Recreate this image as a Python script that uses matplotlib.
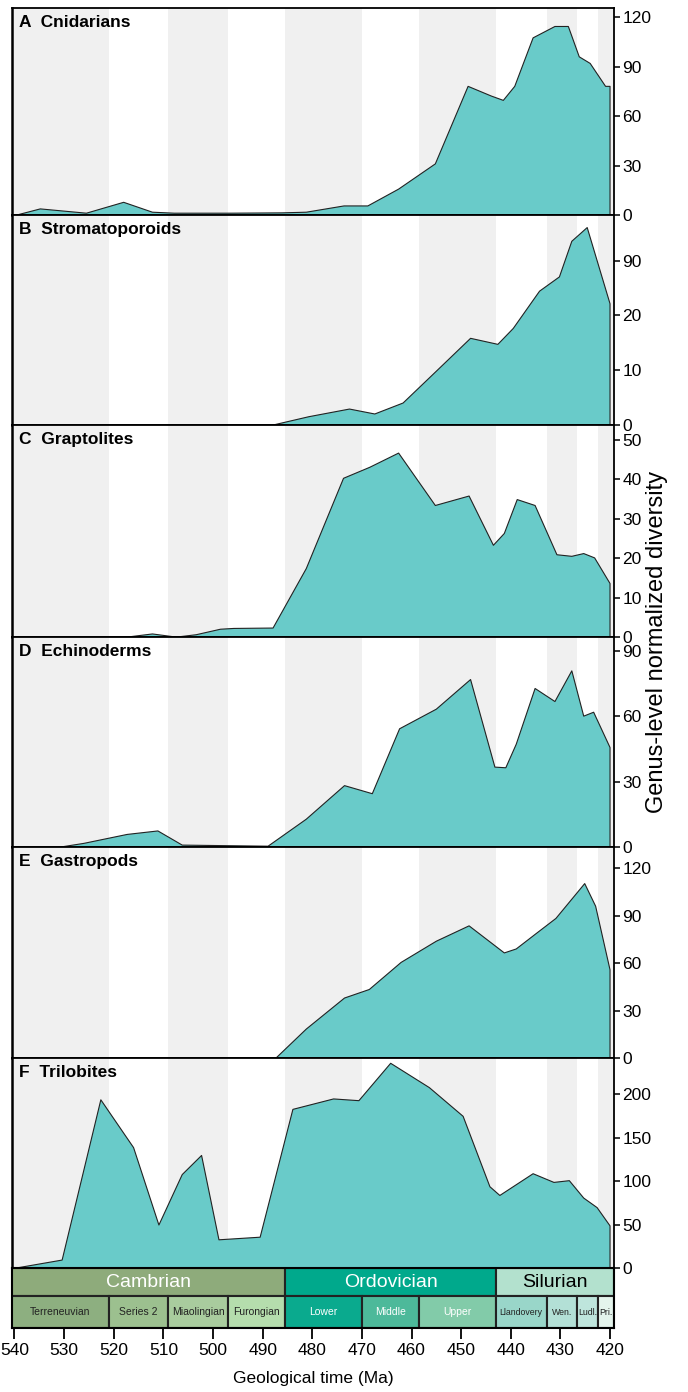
import matplotlib.pyplot as plt
from matplotlib.patches import Rectangle

plt.rcParams['font.family'] = ['Liberation Sans', 'DejaVu Sans']

# ---- data (age in Ma, genus-level normalized diversity) ----
cnid_age = [540, 534.9, 525.6, 518.1, 512.3, 507.9, 496.8, 486.2, 481.3, 473.7, 468.9, 462.7,
            455.3, 448.7, 444.0, 441.6, 439.3, 435.6, 431.2, 428.5, 426.3, 424.1, 421.0, 420.1]
cnid_div = [0, 4, 1.4, 8, 2, 1.4, 1.4, 1.6, 2, 5.8, 5.8, 16,
            31.3, 78.3, 72.4, 69.8, 78.3, 107.7, 114.6, 114.6, 96.2, 92.2, 78.3, 78.3]

strom_age = [488.4, 480.8, 472.6, 467.5, 461.8, 455.1, 448.2, 442.7, 439.6, 434.3, 430.3, 427.8, 424.7, 420.1]
strom_div = [0, 1.6, 3.0, 2.1, 4.1, 9.9, 15.9, 14.8, 17.7, 24.5, 27.1, 33.6, 36.1, 22.2]

grap_age = [518.1, 512.3, 507.5, 503.5, 498.6, 495.9, 488.0, 481.3, 473.8, 468.5, 462.7, 455.3,
            448.5, 443.6, 441.4, 438.8, 435.2, 430.8, 427.8, 425.4, 423.2, 420.1]
grap_div = [0, 0.9, 0.1, 0.7, 2.1, 2.3, 2.4, 17.5, 40.4, 43.2, 46.8, 33.5,
            35.9, 23.4, 26.4, 35.0, 33.5, 21.0, 20.6, 21.3, 20.2, 13.7]

echi_age = [531.4, 526.1, 517.4, 511.2, 506.3, 489.0, 481.3, 473.6, 468.0, 462.5, 455.1, 448.2,
            443.3, 441.1, 439.0, 435.2, 431.2, 427.8, 425.4, 423.4, 420.1]
echi_div = [0, 1.9, 6.0, 7.6, 1.1, 0.6, 13, 28.4, 24.7, 54.5, 63.5, 77.1,
            36.9, 36.6, 47.4, 73, 67, 81.1, 60.3, 62.1, 45.9]

gast_age = [487.5, 481.3, 473.6, 468.6, 462.2, 455.1, 448.5, 441.4, 439.0, 435.2, 431.0, 425.2, 423.0, 420.1]
gast_div = [0, 18.6, 38.2, 43.6, 60.7, 74.1, 83.8, 66.7, 69.2, 78.4, 88.5, 110.5, 96.2, 56.0]

tril_age = [540.3, 530.5, 522.7, 516.1, 511.0, 506.3, 502.4, 498.9, 490.6, 484.0, 475.8, 470.7,
            464.3, 456.5, 449.7, 444.3, 442.3, 435.6, 431.4, 428.3, 425.4, 422.7, 420.1]
tril_div = [0, 9.7, 194, 139, 50, 108, 130, 33, 36, 183, 195, 193,
            236, 208, 175, 94, 84, 109, 99, 101, 81, 70, 49]

panel_names = ['A  Cnidarians', 'B  Stromatoporoids', 'C  Graptolites',
               'D  Echinoderms', 'E  Gastropods', 'F  Trilobites']
panel_ages = [cnid_age, strom_age, grap_age, echi_age, gast_age, tril_age]
panel_divs = [cnid_div, strom_div, grap_div, echi_div, gast_div, tril_div]
panel_ytop = [125.5, 38.3, 53.8, 96.4, 133.3, 241.5]
panel_yticks = [[0, 30, 60, 90, 120], [0, 10, 20, 30], [0, 10, 20, 30, 40, 50],
                [0, 30, 60, 90], [0, 30, 60, 90, 120], [0, 50, 100, 150, 200]]
panel_yticklabels = [['0', '30', '60', '90', '120'], ['0', '10', '20', '90'],
                     ['0', '10', '20', '30', '40', '50'], ['0', '30', '60', '90'],
                     ['0', '30', '60', '90', '120'], ['0', '50', '100', '150', '200']]

# geological time scale
period_names = ['Cambrian', 'Ordovician', 'Silurian']
period_bounds = [541, 485.4, 443.0, 419.2]
period_colors = ['#8EAB7B', '#00A98C', '#B3E1CE']
period_text = ['white', 'white', 'black']

epoch_names = ['Terreneuvian', 'Series 2', 'Miaolingian', 'Furongian', 'Lower', 'Middle', 'Upper',
               'Llandovery', 'Wen.', 'Ludl.', 'Pri.']
epoch_bounds = [541, 521, 509, 497, 485.4, 470, 458.4, 443.0, 432.8, 426.6, 422.4, 419.2]
epoch_colors = ['#8DAF80', '#9CC08F', '#A9CC9E', '#B5DDAD', '#0AAA8E', '#4DB99A', '#82CBA9',
                '#99D6C9', '#B3E0D6', '#BEE5DC', '#E4F4EC']
epoch_text = ['#222222'] * 4 + ['white'] * 3 + ['#222222'] * 4
epoch_size = [7.5] * 7 + [6.3] * 4

xticks = list(range(540, 419, -10))

XMIN, XMAX = 540.5, 419.2
fill_color = '#69CBC9'

W, H = 688, 1392
fig = plt.figure(figsize=(W / 100, H / 100), dpi=100)
L, R = 12 / W, 614 / W


def rect(top, bot):
    return [L, 1 - bot / H, R - L, (bot - top) / H]


edges = [8, 215, 425, 637, 847, 1058, 1268]
for i in range(6):
    ax = fig.add_axes(rect(edges[i], edges[i + 1]))
    # alternating background stripes by epoch
    for j in range(len(epoch_names)):
        if j % 2 == 0:
            ax.axvspan(epoch_bounds[j], epoch_bounds[j + 1], color='#F0F0F0', lw=0, zorder=0)
    ax.fill_between(panel_ages[i], panel_divs[i], 0, facecolor=fill_color,
                    edgecolor='#222222', linewidth=0.8, zorder=2)
    ax.set_xlim(XMIN, XMAX)
    ax.set_ylim(0, panel_ytop[i])
    ax.set_xticks([])
    ax.yaxis.tick_right()
    ax.set_yticks(panel_yticks[i])
    ax.set_yticklabels(panel_yticklabels[i])
    ax.tick_params(axis='y', length=4, width=1.1, pad=2, labelsize=12.5)
    for s in ax.spines.values():
        s.set_linewidth(1.3)
    ax.spines['left'].set_linewidth(1.8)
    ax.text(0.011, 0.965, panel_names[i], transform=ax.transAxes, ha='left', va='top',
            fontsize=12.5, fontweight='bold', zorder=5)

# time scale bar
tax = fig.add_axes(rect(1268, 1328))
tax.set_xlim(XMIN, XMAX)
tax.set_ylim(0, 1)
split = 0.53
for k in range(len(period_names)):
    x0, x1 = period_bounds[k], period_bounds[k + 1]
    tax.add_patch(Rectangle((x0, split), x1 - x0, 1 - split, facecolor=period_colors[k],
                            edgecolor='#222222', lw=1.5))
    tax.text((min(x0, XMIN) + x1) / 2, (split + 1) / 2, period_names[k], ha='center',
             va='center', fontsize=14, color=period_text[k])
for k in range(len(epoch_names)):
    x0, x1 = epoch_bounds[k], epoch_bounds[k + 1]
    tax.add_patch(Rectangle((x0, 0), x1 - x0, split, facecolor=epoch_colors[k],
                            edgecolor='#222222', lw=1.5))
    tax.text((min(x0, XMIN) + x1) / 2, split / 2, epoch_names[k], ha='center',
             va='center', fontsize=epoch_size[k], color=epoch_text[k])
tax.set_yticks([])
tax.set_xticks(xticks)
tax.tick_params(axis='x', length=8, width=1.3, pad=3, labelsize=12.5)
for s in tax.spines.values():
    s.set_linewidth(1.5)
tax.set_xlabel('Geological time (Ma)', fontsize=12.5, labelpad=9)

fig.text(657 / W, 1 - 642 / H, 'Genus-level normalized diversity', rotation=90,
         ha='center', va='center', fontsize=17)

fig.savefig('out.png', dpi=100)
